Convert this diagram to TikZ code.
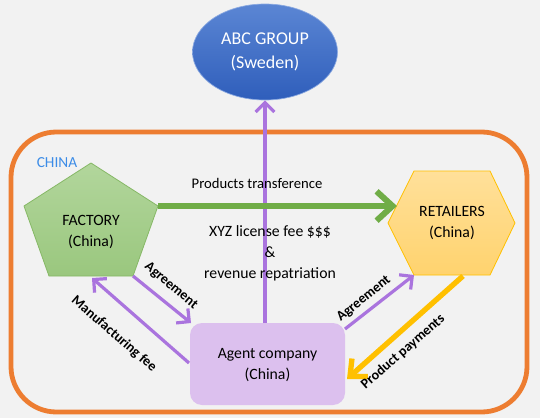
\documentclass[tikz,border=0pt]{standalone}
\usepackage{fontspec}
\setmainfont{Carlito}
\usetikzlibrary{arrows.meta,shapes.geometric}
\definecolor{bg}{HTML}{F2F2F2}
\definecolor{frameor}{HTML}{ED7D31}
\definecolor{chinablue}{HTML}{3C8CE7}
\definecolor{purp}{HTML}{AA74DE}
\definecolor{grn}{HTML}{70AD47}
\definecolor{yel}{HTML}{FFC000}
\definecolor{agentfill}{HTML}{DCC0EE}
\definecolor{blutop}{HTML}{5B86D4}
\definecolor{blubot}{HTML}{2F5EBB}
\definecolor{gtop}{HTML}{B2D69C}
\definecolor{gbot}{HTML}{9AC77E}
\definecolor{gborder}{HTML}{86B866}
\definecolor{ytop}{HTML}{FFE09A}
\definecolor{ybot}{HTML}{FFD36E}
\tikzset{
  txt/.style={font=\fontsize{11}{16.5}\selectfont, align=center, inner sep=0pt},
  shptxt/.style={font=\fontsize{11.8}{16}\selectfont, align=center, inner sep=0pt},
  lbl/.style={font=\fontsize{10.5}{12}\selectfont\bfseries, inner sep=0pt},
  purparrow/.style={draw=purp, line width=2.4pt, -{Straight Barb[length=7pt,width=14pt]}},
}
\begin{document}
\begin{tikzpicture}[x=0.75pt,y=-0.75pt]
\fill[bg] (0,0) rectangle (540,418);
\useasboundingbox (0,0) rectangle (540,418);

% frame
\draw[frameor, line width=3.6pt, rounded corners=34pt] (11,132) rectangle (527,412);
\node[font=\fontsize{11.5}{13}\selectfont, text=chinablue, inner sep=0pt] (china) at (57,163) {CHINA};

% ABC group
\node[ellipse, minimum width=108.75pt, minimum height=72pt, top color=blutop, bottom color=blubot, draw=blutop!70!white, line width=0.5pt, font=\fontsize{13.5}{18}\selectfont, align=center, inner sep=0pt, text=white] (abc) at (265,52) {ABC GROUP\\(Sweden)};

% factory pentagon
\coordinate (ftop) at (91,163);
\coordinate (fr) at (158,206);
\coordinate (fbr) at (133,276);
\coordinate (fbl) at (49,276);
\coordinate (fl) at (24,206);
\coordinate (fbm) at (92,278);
\shade[top color=gtop, bottom color=gbot] (ftop) -- (fr) -- (fbr) -- (fbl) -- (fl) -- cycle;
\draw[gborder, line width=0.6pt, line join=miter] (ftop) -- (fr) -- (fbr) -- (fbl) -- (fl) -- cycle;
\node[shptxt] (factory) at (91,232) {FACTORY\\(China)};

% retailers hexagon
\coordinate (rl) at (388,223);
\coordinate (rtl) at (414,171);
\coordinate (rtr) at (490,171);
\coordinate (rr) at (515,223);
\coordinate (rbr) at (490,275);
\coordinate (rbl) at (414,275);
\coordinate (rlin) at (397,206);
\coordinate (rbpay) at (463,276);
\shade[top color=ytop, bottom color=ybot] (rl) -- (rtl) -- (rtr) -- (rr) -- (rbr) -- (rbl) -- cycle;
\draw[yel, line width=0.6pt] (rl) -- (rtl) -- (rtr) -- (rr) -- (rbr) -- (rbl) -- cycle;
\node[shptxt] (retailers) at (452,223) {RETAILERS\\(China)};

% agent company
\node[fill=agentfill, rounded corners=9pt, minimum width=116.25pt, minimum height=61.5pt, shptxt, text depth=0pt] (agent) at (267.5,364) {Agent company\\(China)};
\coordinate (atop) at (265,323);
\coordinate (atl) at (191,323);
\coordinate (al) at (189,363);
\coordinate (atr) at (345,329);
\coordinate (ar) at (347,379);

% vertical purple arrow
\draw[purparrow] (atop) -- (abc.south);

% green arrow
\draw[grn, line width=4.5pt, -{Straight Barb[length=12pt,width=22pt]}] (fr) -- (rlin);
\node[txt] (prod) at (257,183) {Products transference};

\node[shptxt, font=\fontsize{11.8}{15.8}\selectfont] (xyz) at (270,253) {XYZ license fee \$\$\$\\\&\\revenue repatriation};

% left arrows
\draw[purparrow] (fbr) -- (atl);
\draw[purparrow] (al) -- (fbm);
\node[lbl, rotate=-40] (agl) at (171,286) {Agreement};
\node[lbl, rotate=-41] (mfee) at (114,334) {Manufacturing fee};

% right arrows
\draw[purparrow] (atr) -- (rbl);
\draw[yel, line width=4pt, -{Straight Barb[length=10pt,width=18pt]}] (rbpay) -- (ar);
\node[lbl, rotate=39] (agr) at (364,299) {Agreement};
\node[lbl, rotate=41] (pay) at (403,352) {Product payments};
\end{tikzpicture}
\end{document}
